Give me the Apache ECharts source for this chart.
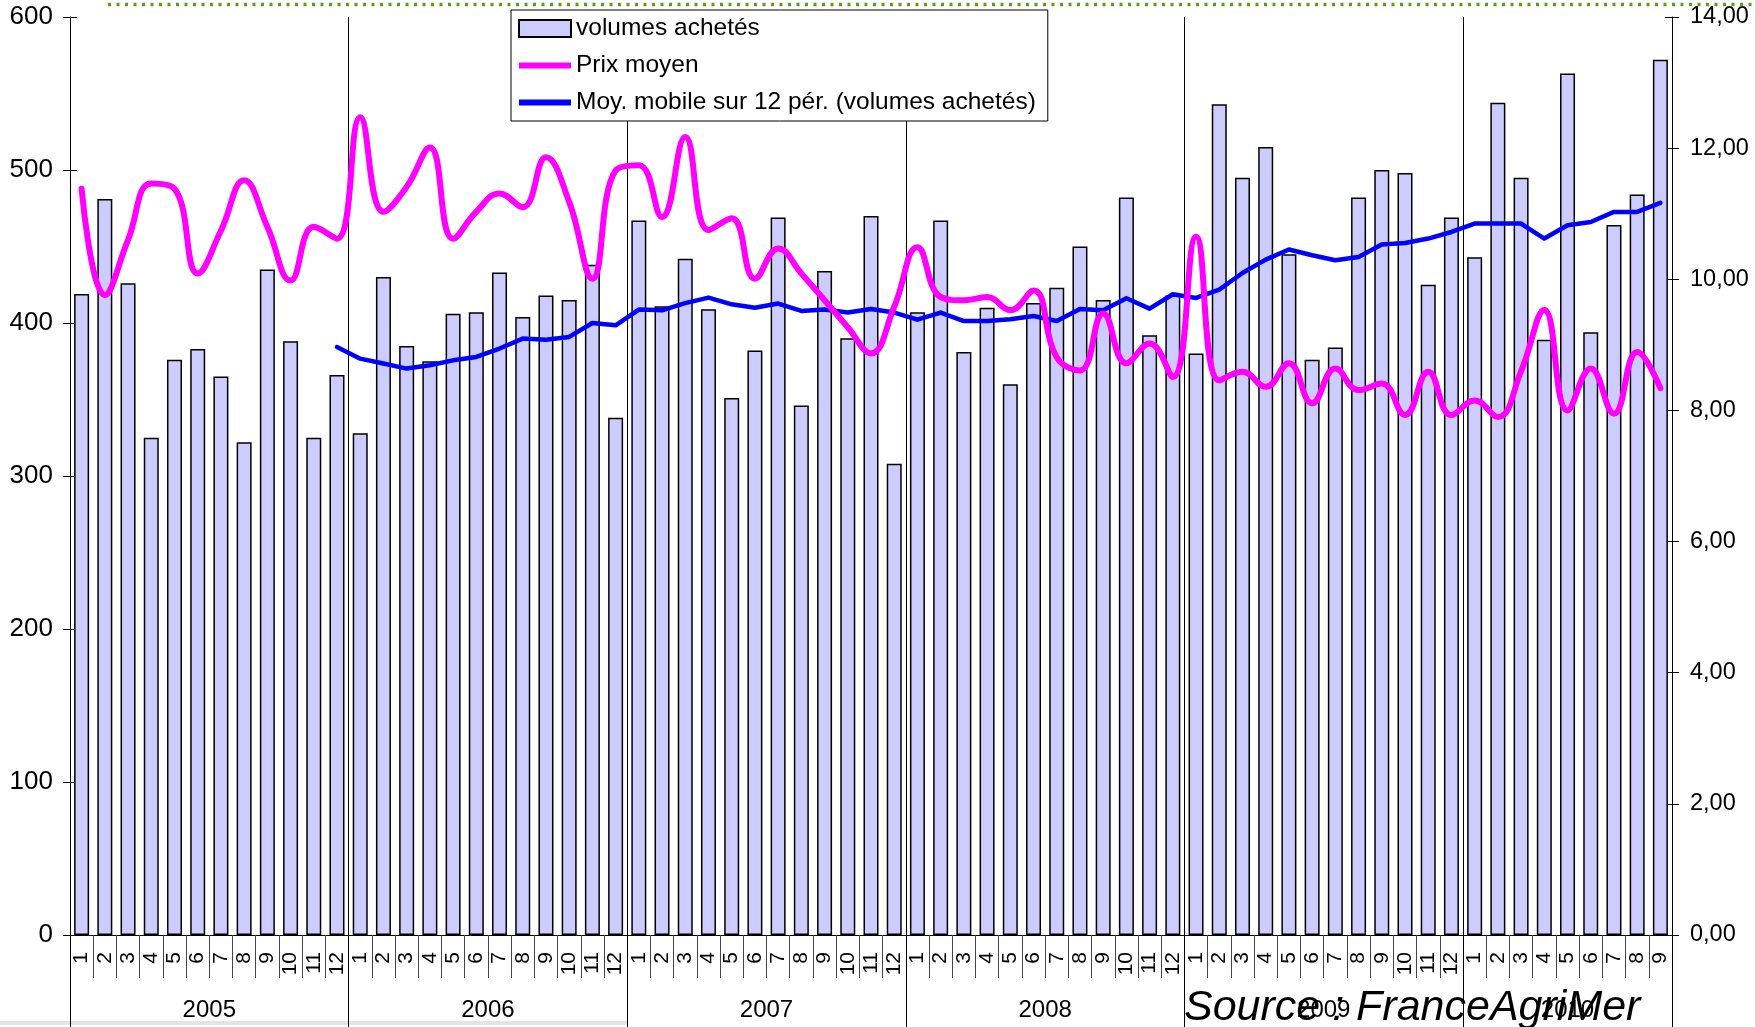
<!DOCTYPE html>
<html>
<head>
<meta charset="utf-8">
<script src="https://cdn.jsdelivr.net/npm/echarts@6/dist/echarts.min.js"></script>
<style>
html,body{margin:0;padding:0;background:#fff;}
#chart{width:1755px;height:1027px;}
</style>
</head>
<body>
<div id="chart"></div>
<script>
// ---- data ----
const yearLabels = ['2005','2006','2007','2008','2009','2010'];
const monthsPerYear = [12,12,12,12,12,9];

const volumes = [
  419,481,426,325,376,383,365,322,435,388,325,366,
  328,430,385,375,406,407,433,404,418,415,438,338,
  467,411,442,409,351,382,469,346,434,390,470,308,
  407,467,381,410,360,413,423,450,415,482,392,418,
  380,543,495,515,445,376,384,482,500,498,425,469,
  443,544,495,389,563,394,464,484,572
];

const prixMoyen = [
  11.38,9.76,10.60,11.46,11.38,10.09,10.74,11.51,10.80,9.98,10.80,10.62,
  12.47,11.03,11.41,12.01,10.62,11.03,11.31,11.10,11.86,11.18,10.01,11.66,
  11.74,10.95,12.17,10.75,10.93,10.01,10.47,10.09,9.68,9.27,8.87,9.58,
  10.49,9.73,9.68,9.73,9.53,9.83,8.81,8.61,9.48,8.72,9.02,8.51,
  10.65,8.46,8.59,8.36,8.72,8.11,8.64,8.31,8.41,7.93,8.59,7.93,
  8.15,7.90,8.60,9.53,8.00,8.64,7.95,8.89,8.34
];

const moyMobile = [
  null,null,null,null,null,null,null,null,null,null,null,384.3,
  376.7,373.5,370.2,372.4,375.6,377.8,383.3,389.8,389.1,390.9,400.0,398.5,
  408.8,408.3,413.0,416.6,412.2,410.0,412.7,407.9,408.8,406.8,409.2,406.8,
  402.2,406.8,401.3,401.3,402.4,404.6,401.3,409.2,408.3,416.2,409.4,418.8,
  416.4,421.8,432.7,441.4,448.0,444.3,441.0,443.2,451.3,452.3,455.2,459.5,
  465.0,465.0,465.0,455.2,463.9,466.0,472.6,472.6,478.5
];

// month tick labels
const monthLabels = [];
monthsPerYear.forEach(n => { for (let m = 1; m <= n; m++) monthLabels.push(String(m)); });

// year group boundaries / centres on the category index scale
const yearBounds = [0];
const yearCenters = [];
monthsPerYear.forEach((n, i) => {
  yearCenters.push(yearBounds[i] + n / 2);
  yearBounds.push(yearBounds[i] + n);
});
const nCat = monthLabels.length;

const FONT = '"Liberation Sans", Arial, sans-serif';
const chart = echarts.init(document.getElementById('chart'));

const LINE_ICON = 'path://M0,0 L52,0 L52,6 L0,6 Z';

function tickOnlyAxis(base, min, max, interval, position) {
  return {
    type: 'value', min: min, max: max, interval: interval, position: position,
    axisLine: { show: false },
    axisTick: { show: true, inside: true, length: 7, lineStyle: { color: '#000' } },
    axisLabel: { show: false },
    splitLine: { show: false }
  };
}

const option = {
  animation: false,
  backgroundColor: '#ffffff',
  textStyle: { fontFamily: FONT, color: '#000' },
  grid: { left: 70, right: 83, top: 17, bottom: 92, containLabel: false },
  legend: {
    left: 511, top: 10, orient: 'vertical',
    itemWidth: 52, itemHeight: 17, itemGap: 12,
    padding: [6, 12, 6, 7],
    borderColor: '#000', borderWidth: 1, backgroundColor: '#fff',
    textStyle: { fontSize: 24.5, color: '#000', fontFamily: FONT },
    data: [
      { name: 'volumes achetés', icon: 'rect' },
      { name: 'Prix moyen', icon: LINE_ICON },
      { name: 'Moy. mobile sur 12 pér. (volumes achetés)', icon: LINE_ICON }
    ]
  },
  xAxis: [
    {
      type: 'category', data: monthLabels, boundaryGap: true,
      axisLine: { show: true, lineStyle: { color: '#000', width: 1 } },
      axisTick: { show: true, interval: 0, length: 43, lineStyle: { color: '#444', width: 1 } },
      axisLabel: { interval: 0, rotate: 90, margin: 17, fontSize: 21, color: '#000', fontFamily: FONT },
      splitLine: { show: false }
    },
    {
      type: 'value', min: 0, max: nCat, interval: 12, position: 'bottom',
      axisLine: { show: false },
      axisTick: { show: true, length: 92, customValues: yearBounds, lineStyle: { color: '#000', width: 1 } },
      splitLine: { show: true, lineStyle: { color: '#000', width: 1 } },
      axisLabel: {
        customValues: yearCenters, margin: 63, fontSize: 24, color: '#000', fontFamily: FONT,
        formatter: function (v) {
          for (let i = 0; i < yearCenters.length; i++) {
            if (Math.abs(yearCenters[i] - v) < 1e-6) return yearLabels[i];
          }
          return '';
        }
      }
    }
  ],
  yAxis: [
    {
      type: 'value', min: 0, max: 600, interval: 100, position: 'left',
      axisLine: { show: true, lineStyle: { color: '#000', width: 1 } },
      axisTick: { show: true, length: 7, lineStyle: { color: '#000' } },
      splitLine: { show: false },
      axisLabel: { fontSize: 26, color: '#000', margin: 17, fontFamily: FONT }
    },
    {
      type: 'value', min: 0, max: 14, interval: 2, position: 'right',
      axisLine: { show: true, lineStyle: { color: '#000', width: 1 } },
      axisTick: { show: true, length: 7, lineStyle: { color: '#000' } },
      splitLine: { show: false },
      axisLabel: {
        fontSize: 23.5, color: '#000', margin: 18, fontFamily: FONT,
        formatter: v => v.toFixed(2).replace('.', ',')
      }
    },
    tickOnlyAxis(null, 0, 600, 100, 'left'),
    tickOnlyAxis(null, 0, 14, 2, 'right')
  ],
  series: [
    {
      name: 'volumes achetés', type: 'bar', data: volumes,
      xAxisIndex: 0, yAxisIndex: 0, barWidth: 15,
      itemStyle: { color: '#ccccff', borderColor: '#000', borderWidth: 1.5 }
    },
    {
      name: 'Moy. mobile sur 12 pér. (volumes achetés)', type: 'line', data: moyMobile,
      xAxisIndex: 0, yAxisIndex: 0, symbol: 'none', smooth: false, connectNulls: false,
      lineStyle: { color: '#0000ff', width: 4.5, cap: 'round', join: 'round' },
      itemStyle: { color: '#0000ff' }
    },
    {
      name: 'Prix moyen', type: 'line', data: prixMoyen,
      xAxisIndex: 0, yAxisIndex: 1, symbol: 'none', smooth: 0.45,
      lineStyle: { color: '#ff00ff', width: 6, cap: 'round', join: 'round' },
      itemStyle: { color: '#ff00ff' }
    }
  ],
  graphic: [
    {
      type: 'line', silent: true, z: 100,
      shape: { x1: 108, y1: 4.5, x2: 1755, y2: 4.5 },
      style: { stroke: '#5c9e1a', lineWidth: 3.5, lineDash: [3, 5.5] }
    },
    {
      type: 'rect', silent: true, z: 0,
      shape: { x: 0, y: 1021, width: 627, height: 4 },
      style: { fill: '#e4e4e4' }
    },
    {
      type: 'text', silent: true, z: 100,
      style: {
        x: 1184, y: 1008, text: 'Source : FranceAgriMer',
        font: 'italic 43px "Liberation Sans", Arial, sans-serif',
        fill: '#000', verticalAlign: 'middle', align: 'left'
      }
    }
  ]
};
chart.setOption(option);
</script>
</body>
</html>
